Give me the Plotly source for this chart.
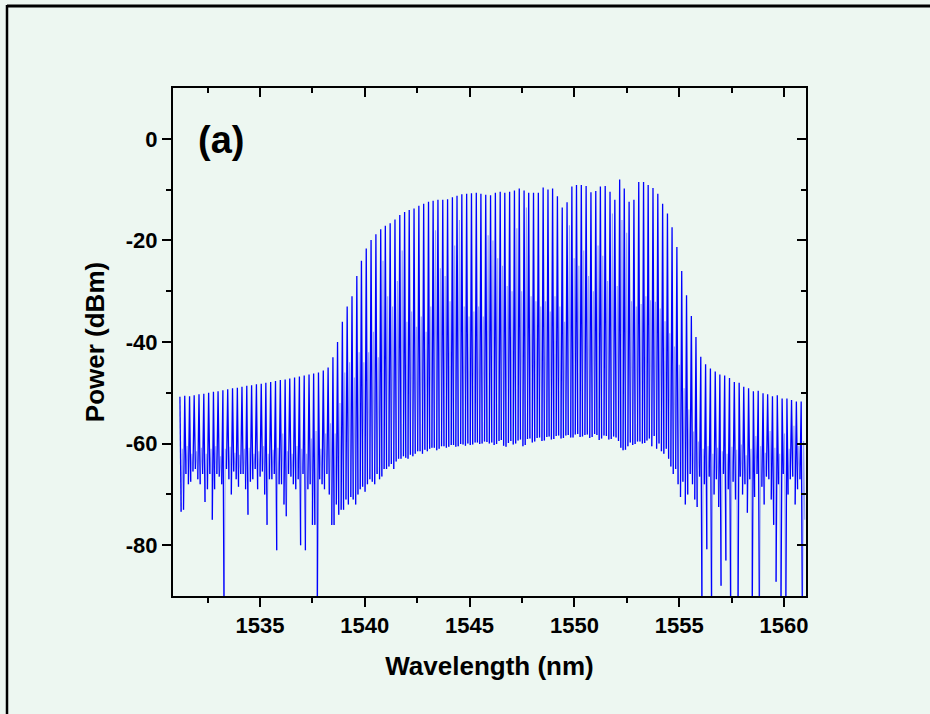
import plotly.graph_objects as go

# ---- data (one entry per comb line) ----
wavelength_nm = [
    1531.18, 1531.41, 1531.64, 1531.86, 1532.09, 1532.32, 1532.55, 1532.78, 1533.00, 1533.23,
    1533.46, 1533.69, 1533.92, 1534.14, 1534.37, 1534.60, 1534.83, 1535.06, 1535.28, 1535.51,
    1535.74, 1535.97, 1536.20, 1536.42, 1536.65, 1536.88, 1537.11, 1537.34, 1537.56, 1537.79,
    1538.02, 1538.25, 1538.48, 1538.70, 1538.93, 1539.16, 1539.39, 1539.62, 1539.84, 1540.07,
    1540.30, 1540.53, 1540.76, 1540.98, 1541.21, 1541.44, 1541.67, 1541.90, 1542.12, 1542.35,
    1542.58, 1542.81, 1543.04, 1543.26, 1543.49, 1543.72, 1543.95, 1544.18, 1544.40, 1544.63,
    1544.86, 1545.09, 1545.32, 1545.54, 1545.77, 1546.00, 1546.23, 1546.46, 1546.68, 1546.91,
    1547.14, 1547.37, 1547.60, 1547.82, 1548.05, 1548.28, 1548.51, 1548.74, 1548.96, 1549.19,
    1549.42, 1549.65, 1549.88, 1550.10, 1550.33, 1550.56, 1550.79, 1551.02, 1551.24, 1551.47,
    1551.70, 1551.93, 1552.16, 1552.38, 1552.61, 1552.84, 1553.07, 1553.30, 1553.52, 1553.75,
    1553.98, 1554.21, 1554.44, 1554.66, 1554.89, 1555.12, 1555.35, 1555.58, 1555.80, 1556.03,
    1556.26, 1556.49, 1556.72, 1556.94, 1557.17, 1557.40, 1557.63, 1557.86, 1558.08, 1558.31,
    1558.54, 1558.77, 1559.00, 1559.22, 1559.45, 1559.68, 1559.91, 1560.14, 1560.36, 1560.59,
    1560.82,
]

# comb-line peak power (dBm)
peak_dbm = [
    -50.8, -50.6, -50.7, -50.5, -50.3, -50.2, -50.0, -49.8, -49.7, -49.5,
    -49.3, -49.1, -49.0, -48.8, -48.6, -48.5, -48.3, -48.2, -48.0, -47.9,
    -47.7, -47.5, -47.4, -47.2, -47.0, -46.8, -46.6, -46.4, -46.2, -46.0,
    -45.6, -45.0, -43.0, -40.0, -36.0, -33.0, -31.0, -27.0, -24.0, -21.6,
    -19.9, -18.8, -17.8, -17.1, -16.6, -15.9, -15.0, -14.4, -14.0, -13.7,
    -13.2, -12.8, -12.4, -12.2, -12.0, -12.0, -11.9, -11.5, -11.2, -10.9,
    -10.8, -10.7, -10.6, -10.8, -11.0, -11.1, -10.6, -10.4, -10.6, -10.4,
    -10.2, -9.8, -10.2, -10.6, -10.6, -10.6, -9.6, -10.0, -9.8, -11.3,
    -13.5, -12.5, -9.4, -9.1, -9.1, -9.3, -10.5, -10.3, -9.4, -9.3,
    -10.4, -12.0, -8.0, -9.8, -12.4, -12.0, -8.5, -8.5, -9.1, -9.7,
    -10.8, -12.8, -14.7, -17.4, -21.3, -26.0, -30.8, -34.9, -39.0, -42.9,
    -44.4, -45.2, -45.8, -46.4, -46.6, -47.1, -47.9, -48.0, -48.8, -49.1,
    -49.7, -49.6, -50.1, -50.3, -50.7, -50.5, -51.1, -51.1, -51.4, -51.7,
    -51.7,
]

# trace minimum just after each comb line (dBm)
trough_a_dbm = [
    -73.4, -66.0, -67.5, -65.0, -68.0, -71.5, -66.0, -69.0, -66.5, -96.0,
    -67.0, -65.5, -68.5, -66.0, -74.0, -67.0, -69.0, -65.5, -76.0, -67.0,
    -81.0, -68.0, -74.3, -66.5, -69.0, -80.0, -81.0, -68.0, -76.0, -67.0,
    -69.0, -70.0, -76.0, -74.0, -73.0, -72.0, -71.0, -70.0, -68.5, -68.0,
    -67.5, -66.0, -66.5, -65.0, -64.0, -63.5, -63.0, -62.8, -62.2, -62.0,
    -61.5, -61.2, -61.0, -60.8, -61.0, -60.5, -60.6, -60.3, -60.5, -60.2,
    -60.0, -60.2, -59.8, -60.0, -59.7, -59.8, -60.1, -59.3, -60.6, -59.5,
    -60.0, -59.2, -60.3, -59.0, -59.6, -58.8, -59.4, -58.6, -59.1, -58.4,
    -58.9, -58.3, -58.8, -58.1, -58.6, -58.2, -58.7, -58.3, -59.0, -58.5,
    -59.1, -58.8, -60.8, -61.2, -59.8, -60.1, -59.6, -59.9, -59.0, -58.5,
    -60.0, -62.0, -63.0, -66.0, -68.0, -67.5, -70.0, -68.0, -72.5, -96.0,
    -80.8, -96.0, -67.0, -88.0, -83.0, -96.0, -71.0, -66.5, -68.0, -67.0,
    -70.5, -96.0, -72.0, -67.0, -76.0, -68.0, -66.0, -70.0, -66.5, -69.0,
    -96.0,
]

# smaller intermediate maximum between comb lines (dBm)
sub_peak_dbm = [
    -61.0, -60.5, -62.0, -61.5, -60.8, -62.0, -61.0, -60.5, -62.5, -61.0,
    -60.6, -61.8, -62.2, -61.0, -60.8, -62.0, -61.5, -60.5, -62.0, -61.2,
    -60.8, -58.0, -61.5, -62.0, -60.5, -61.0, -62.0, -59.0, -57.5, -61.0,
    -58.0, -56.0, -58.0, -52.0, -46.0, -44.0, -47.0, -42.0, -44.0, -42.0,
    -38.0, -43.0, -24.0, -31.0, -33.0, -28.0, -22.0, -36.0, -34.0, -37.0,
    -35.0, -38.0, -33.0, -18.0, -25.5, -27.0, -32.0, -21.0, -16.0, -33.0,
    -35.0, -34.0, -33.0, -35.0, -19.0, -20.0, -23.5, -25.0, -29.0, -30.0,
    -17.6, -30.0, -13.5, -31.0, -32.0, -33.0, -32.0, -34.0, -31.0, -33.0,
    -36.0, -17.0, -23.5, -25.0, -22.0, -27.0, -30.0, -21.0, -23.0, -28.0,
    -14.7, -29.0, -16.0, -18.5, -32.0, -33.0, -32.5, -31.0, -31.8, -32.1,
    -33.4, -35.9, -38.3, -40.9, -44.5, -49.1, -53.3, -57.6, -59.6, -61.0,
    -60.5, -62.0, -60.8, -61.5, -62.0, -60.6, -61.2, -60.2, -62.3, -61.0,
    -58.5, -60.5, -61.8, -57.5, -60.8, -62.0, -58.0, -61.0, -56.5, -60.5,
    -59.5,
]

# trace minimum just before the next comb line (dBm)
trough_b_dbm = [
    -73.0, -68.0, -65.5, -67.0, -66.0, -69.0, -75.0, -66.0, -68.0, -65.0,
    -70.0, -67.0, -66.0, -69.0, -67.5, -65.0, -66.5, -70.0, -67.0, -66.0,
    -68.0, -72.0, -66.0, -68.0, -67.0, -66.0, -69.0, -76.0, -96.0, -68.0,
    -66.0, -76.0, -72.0, -73.0, -71.0, -70.5, -72.0, -69.0, -69.5, -67.0,
    -68.0, -67.0, -65.0, -64.5, -65.0, -63.0, -62.5, -63.0, -62.5, -61.5,
    -62.0, -61.5, -60.8, -61.3, -60.5, -60.8, -60.3, -60.6, -60.1, -60.4,
    -60.3, -59.8, -60.1, -59.6, -60.0, -60.3, -59.5, -60.4, -59.9, -60.2,
    -59.4, -60.5, -59.1, -59.8, -58.9, -59.5, -58.7, -59.2, -58.5, -59.0,
    -58.4, -58.8, -58.2, -58.7, -58.3, -58.9, -58.1, -59.3, -58.4, -59.2,
    -58.6, -59.5, -61.3, -60.5, -60.3, -59.6, -60.0, -59.4, -60.5, -61.0,
    -61.5, -61.0, -64.5, -65.0, -70.5, -72.0, -66.0, -71.0, -66.5, -68.0,
    -66.5, -70.0, -72.5, -66.0, -69.0, -67.5, -96.0, -70.0, -73.6, -96.0,
    -66.0, -68.5, -66.5, -71.0, -87.2, -96.0, -96.0, -67.0, -72.0, -67.0,
    -75.0,
]

x_tick_values = [1535, 1540, 1545, 1550, 1555, 1560]
x_tick_labels = ["1535", "1540", "1545", "1550", "1555", "1560"]
x_minor_values = [1532.5, 1537.5, 1542.5, 1547.5, 1552.5, 1557.5]
y_tick_values = [0, -20, -40, -60, -80]
y_tick_labels = ["0", "-20", "-40", "-60", "-80"]
y_minor_values = [-10, -30, -50, -70]

x_range = [1530.85, 1561.05]
y_range = [-90, 10]

# ---- build the trace pieces from the per-line readings ----
# comb spikes (dark): trough before -> peak -> trough after
spike_x, spike_y = [], []
# intermediate sub-spikes (light): trough -> sub-peak -> trough
sub_x, sub_y = [], []
n = len(wavelength_nm)
for i in range(n):
    step = (wavelength_nm[i + 1] - wavelength_nm[i]) if i < n - 1 else (wavelength_nm[i] - wavelength_nm[i - 1])
    q = step / 4.0
    w = wavelength_nm[i]
    if i > 0:
        spike_x.append(w - q)
        spike_y.append(trough_b_dbm[i - 1])
    spike_x += [w, w + q, None]
    spike_y += [peak_dbm[i], trough_a_dbm[i], None]
    sub_x += [w + q, w + 2 * q, w + 3 * q, None]
    sub_y += [trough_a_dbm[i], sub_peak_dbm[i], trough_b_dbm[i], None]

BG = "#EDF7F1"
FONT = "Liberation Sans"

fig = go.Figure()
fig.add_trace(go.Scatter(
    x=sub_x, y=sub_y, mode="lines", connectgaps=False,
    line=dict(color="#97A2F5", width=1.1),
    showlegend=False, hoverinfo="skip",
))
fig.add_trace(go.Scatter(
    x=spike_x, y=spike_y, mode="lines", connectgaps=False,
    line=dict(color="#0000FF", width=1.3),
    showlegend=False, hoverinfo="skip",
))
# helper (empty) trace so that the mirrored top/right axes are drawn
fig.add_trace(go.Scatter(x=[None], y=[None], xaxis="x2", yaxis="y2",
                         mode="lines", showlegend=False, hoverinfo="skip"))

tick_font = dict(family=FONT, size=22, color="black", weight="bold")
title_font = dict(family=FONT, size=26, color="black", weight="bold")

fig.update_layout(
    width=930, height=714,
    paper_bgcolor=BG, plot_bgcolor=BG,
    margin=dict(l=173, r=124, t=88, b=118),
    xaxis=dict(
        range=x_range, showgrid=False, zeroline=False,
        showline=True, linecolor="black", linewidth=2,
        ticks="outside", ticklen=9, tickwidth=2, tickcolor="black",
        tickmode="array", tickvals=x_tick_values, ticktext=x_tick_labels,
        minor=dict(tickmode="array", tickvals=x_minor_values, ticks="outside",
                   ticklen=5, tickwidth=2, tickcolor="black"),
        tickfont=tick_font,
        title=dict(text="Wavelength (nm)", font=title_font, standoff=19),
    ),
    yaxis=dict(
        range=y_range, showgrid=False, zeroline=False,
        showline=True, linecolor="black", linewidth=2,
        ticks="outside", ticklen=9, tickwidth=2, tickcolor="black",
        tickmode="array", tickvals=y_tick_values, ticktext=y_tick_labels,
        minor=dict(tickmode="array", tickvals=y_minor_values, ticks="outside",
                   ticklen=5, tickwidth=2, tickcolor="black"),
        tickfont=tick_font,
        title=dict(text="Power (dBm)", font=title_font, standoff=14),
    ),
    xaxis2=dict(
        range=x_range, overlaying="x", side="top", anchor="y2",
        showgrid=False, zeroline=False, showticklabels=False,
        showline=True, linecolor="black", linewidth=2,
        ticks="inside", ticklen=9, tickwidth=2, tickcolor="black",
        tickmode="array", tickvals=x_tick_values,
        minor=dict(tickmode="array", tickvals=x_minor_values, ticks="inside",
                   ticklen=5, tickwidth=2, tickcolor="black"),
    ),
    yaxis2=dict(
        range=y_range, overlaying="y", side="right", anchor="x2",
        showgrid=False, zeroline=False, showticklabels=False,
        showline=True, linecolor="black", linewidth=2,
        ticks="inside", ticklen=9, tickwidth=2, tickcolor="black",
        tickmode="array", tickvals=y_tick_values,
        minor=dict(tickmode="array", tickvals=y_minor_values, ticks="inside",
                   ticklen=5, tickwidth=2, tickcolor="black"),
    ),
    annotations=[dict(
        text="(a)", x=1533.15, y=-0.3, xref="x", yref="y",
        xanchor="center", yanchor="middle", showarrow=False,
        font=dict(family=FONT, size=38, color="black", weight="bold"),
    )],
    shapes=[
        # figure frame: top and left edges
        dict(type="line", xref="paper", yref="paper",
             x0=(7 - 173) / 633, x1=(930 - 173) / 633,
             y0=(596 - 6) / 508, y1=(596 - 6) / 508,
             line=dict(color="black", width=3)),
        dict(type="line", xref="paper", yref="paper",
             x0=(7 - 173) / 633, x1=(7 - 173) / 633,
             y0=(596 - 5) / 508, y1=(596 - 714) / 508,
             line=dict(color="black", width=2.5)),
    ],
)

# remove the browser's default page margin so the 930x714 figure fills the window
fig.write_html("out.html", config={"displayModeBar": False},
               post_script="document.body.style.margin='0';")
